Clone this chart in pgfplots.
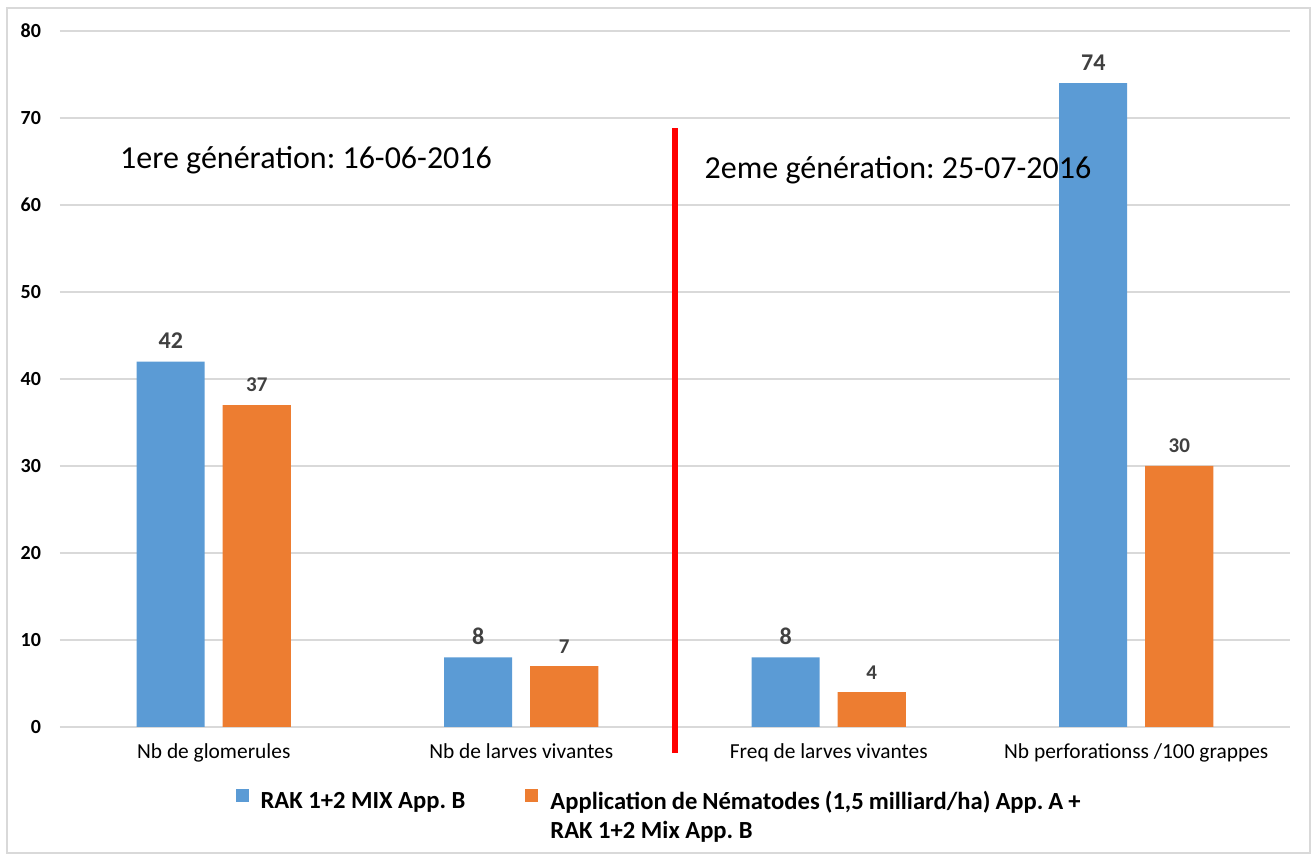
\documentclass[border=0pt]{standalone}
\usepackage{pgfplots}
\pgfplotsset{compat=1.18}
\usepackage{fontspec}
\setmainfont{Carlito}
\frenchspacing
\definecolor{cblue}{HTML}{5B9BD5}
\definecolor{corange}{HTML}{ED7D31}
\definecolor{cgrid}{HTML}{D9D9D9}
\definecolor{ctext}{HTML}{404040}
\begin{document}
\begin{tikzpicture}
\path[use as bounding box] (-30pt,-63.5pt) rectangle (627pt,363.5pt);
\draw[cgrid, line width=0.8pt] (-26.5pt,-63pt) rectangle (625pt,359.5pt);
\begin{axis}[
  scale only axis, width=615pt, height=348pt,
  xmin=-0.5, xmax=3.5, ymin=0, ymax=80,
  ytick={0,10,...,80},
  xtick={0,1,2,3},
  xticklabels={Nb de glomerules, Nb de larves vivantes, Freq de larves vivantes, Nb perforationss /100 grappes},
  axis line style={draw=none},
  major tick length=0pt,
  ymajorgrids, grid style={cgrid, line width=0.8pt},
  /pgf/number format/assume math mode=true,
  yticklabel style={font=\fontsize{10}{12}\selectfont\bfseries, text=black, xshift=-6pt},
  xticklabel style={font=\fontsize{10.7}{13}\selectfont, text=black, yshift=-5pt},
  bar width=34pt,
  clip=false,
  legend style={draw=none, at={(0.1375,-0.080)}, anchor=north west,
    font=\fontsize{12.3}{14.6}\selectfont\bfseries,
    /tikz/every odd column/.append style={column sep=4pt},
    /tikz/every even column/.append style={column sep=28pt}},
  legend columns=2,
  legend cell align=left,
]
\addplot[ybar, fill=cblue, draw=none, bar shift=-21.5pt,
  legend image code/.code={\fill[cblue] (0pt,-0.3pt) rectangle (6.5pt,6.2pt);},
  nodes near coords, nodes near coords style={font=\fontsize{12}{14}\selectfont\bfseries, text=ctext, xshift=-21.5pt, yshift=3pt}]
  coordinates {(0,42) (1,8) (2,8) (3,74)};
\addlegendentry{RAK 1+2 MIX App. B}
\addplot[ybar, fill=corange, draw=none, bar shift=21.5pt,
  legend image code/.code={\fill[corange] (0pt,-0.3pt) rectangle (6.5pt,6.2pt);},
  nodes near coords, nodes near coords style={font=\fontsize{10.5}{12}\selectfont\bfseries, text=ctext, xshift=21.5pt, yshift=3pt}]
  coordinates {(0,37) (1,7) (2,4) (3,30)};
\addlegendentry{\parbox[t]{265pt}{Application de Nématodes (1,5 milliard/ha) App. A +\\RAK 1+2 Mix App. B}}
\draw[red, line width=2.6pt] (axis cs:1.5,68.8) -- (axis cs:1.5,-3);
\node[font=\fontsize{16}{19}\selectfont, text=black] at (axis cs:0.3,65.2) {1ere génération: 16-06-2016};
\node[font=\fontsize{16}{19}\selectfont, text=black] at (axis cs:2.225,64.0) {2eme génération: 25-07-2016};
\end{axis}
\end{tikzpicture}
\end{document}
